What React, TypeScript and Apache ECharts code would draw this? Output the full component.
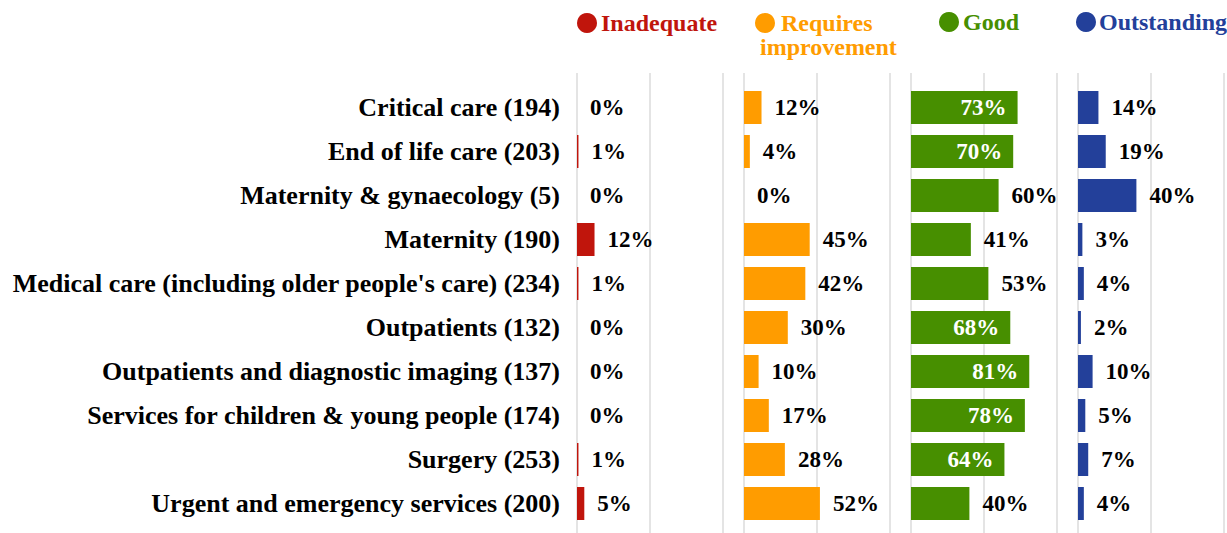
import React, { useEffect, useRef } from "react";
import * as echarts from "echarts";

const categories = [
  "Critical care (194)",
  "End of life care (203)",
  "Maternity & gynaecology (5)",
  "Maternity (190)",
  "Medical care (including older people's care) (234)",
  "Outpatients (132)",
  "Outpatients and diagnostic imaging (137)",
  "Services for children & young people (174)",
  "Surgery (253)",
  "Urgent and emergency services (200)",
];
const inadequate = [0, 1, 0, 12, 1, 0, 0, 0, 1, 5];
const requiresImprovement = [12, 4, 0, 45, 42, 30, 10, 17, 28, 52];
const good = [73, 70, 60, 41, 53, 68, 81, 78, 64, 40];
const outstanding = [14, 19, 40, 3, 4, 2, 10, 5, 7, 4];
const ratingNames = ["Inadequate", "Requires improvement", "Good", "Outstanding"];
const ratingColors = ["#c0150c", "#ff9c00", "#478f00", "#23409a"];
const axisMin = 0;
const axisMax = 100;
const axisInterval = 50;

export default function App() {
  const ref = useRef<HTMLDivElement>(null);
  useEffect(() => {
    const chart = echarts.init(ref.current!, null, { renderer: "svg" });
    const seriesValues = [inadequate, requiresImprovement, good, outstanding];
    const panelLeft = [577, 744, 911, 1078];
    const panelWidth = 146;
    const font = "'Liberation Serif', 'Times New Roman', serif";
    const grids: any[] = [];
    const xAxes: any[] = [];
    const yAxes: any[] = [];
    const series: any[] = [];
    panelLeft.forEach((left, i) => {
      grids.push({ left, width: panelWidth, top: 85.5, height: 440 });
      grids.push({ left, width: panelWidth, top: 73, height: 480 });
      xAxes.push({
        type: "value",
        gridIndex: 2 * i,
        min: axisMin,
        max: axisMax,
        interval: axisInterval,
        show: false,
      });
      xAxes.push({
        type: "value",
        gridIndex: 2 * i + 1,
        min: axisMin,
        max: axisMax,
        interval: axisInterval,
        axisLine: { show: false },
        axisTick: { show: false },
        axisLabel: { show: false },
        splitLine: { show: true, lineStyle: { color: "#e4e4e4", width: 2 } },
      });
      yAxes.push({
        type: "category",
        gridIndex: 2 * i,
        data: categories,
        inverse: true,
        axisLine: { show: false },
        axisTick: { show: false },
        splitLine: { show: false },
        axisLabel: {
          show: i === 0,
          margin: 17,
          fontSize: 26,
          fontWeight: "bold",
          fontFamily: font,
          color: "#000",
        },
      });
      yAxes.push({ type: "value", gridIndex: 2 * i + 1, show: false, min: 0, max: 1 });
      series.push({
        type: "bar",
        name: ratingNames[i],
        xAxisIndex: 2 * i,
        yAxisIndex: 2 * i,
        barWidth: 33,
        itemStyle: { color: ratingColors[i] },
        label: {
          show: true,
          position: "right",
          distance: 13,
          formatter: "{c}%",
          fontSize: 23,
          fontWeight: "bold",
          fontFamily: font,
          color: "#000",
        },
        data: seriesValues[i].map((v) =>
          v >= 62
            ? { value: v, label: { position: "insideRight", distance: 11, color: "#fff" } }
            : { value: v }
        ),
      });
    });

    // legend drawn as graphic: marker circles and rating names
    const legendMarkers = [
      [587, 23],
      [765, 23],
      [949, 22],
      [1086, 22],
    ];
    const legendTextLines: [string, number, number][][] = [
      [["Inadequate", 601, 23]],
      [
        ["Requires", 781, 23],
        ["improvement", 760, 47],
      ],
      [["Good", 963, 22]],
      [["Outstanding", 1099, 22]],
    ];
    const graphic: any[] = [];
    ratingNames.forEach((name, i) => {
      graphic.push({
        type: "circle",
        shape: { cx: legendMarkers[i][0], cy: legendMarkers[i][1], r: 10 },
        style: { fill: ratingColors[i] },
      });
      legendTextLines[i].forEach(([t, x, y]) => {
        graphic.push({
          type: "text",
          x,
          y,
          style: {
            text: t,
            fill: ratingColors[i],
            font: `bold 24px ${font}`,
            textAlign: "left",
            textVerticalAlign: "middle",
          },
        });
      });
    });

    chart.setOption({
      animation: false,
      backgroundColor: "#fff",
      grid: grids,
      xAxis: xAxes,
      yAxis: yAxes,
      series,
      graphic,
    });
    return () => chart.dispose();
  }, []);
  return (
    <div
      ref={ref}
      style={{ position: "fixed", left: 0, top: 0, width: 1227, height: 533 }}
    />
  );
}
